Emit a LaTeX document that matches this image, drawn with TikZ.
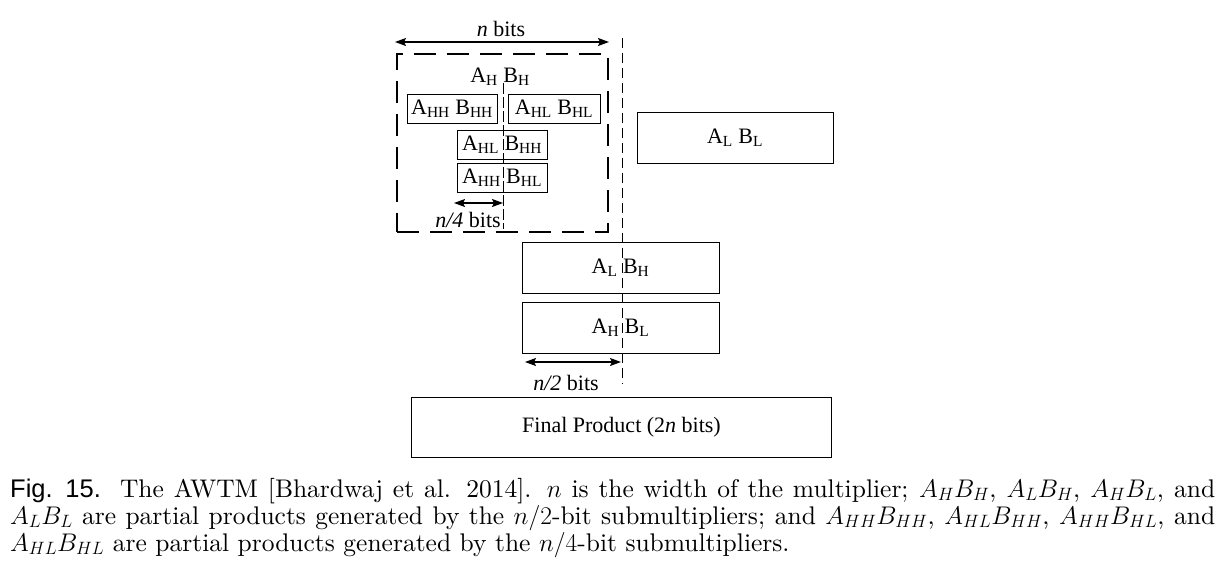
\RequirePackage{fix-cm}
\documentclass[tikz,border=0pt]{standalone}
\usepackage{amsmath,amssymb}
\usepackage{fontspec}
\newfontfamily\tnr{Liberation Serif}
\newfontfamily\hvs{Liberation Sans}
\newfontfamily\capfont{lmroman10-regular.otf}
\newcommand{\fullline}[1]{{\parfillskip=0pt\relax #1\par}}
\newcommand{\sub}[1]{\textsubscript{#1}}
\usetikzlibrary{arrows.meta}

\begin{document}
\begin{tikzpicture}[x=1pt,y=-1pt,>={Stealth[length=11pt,width=8pt,inset=2pt]},
  pbox/.style={draw,line width=1pt,inner sep=0pt,font=\tnr\fontsize{22}{22}\selectfont},
  grp/.style={draw,line width=1.6pt,dash pattern=on 22pt off 11pt,inner sep=0pt},
  lbl/.style={inner sep=0pt,font=\tnr\fontsize{22}{22}\selectfont},
  dim/.style={<->,line width=1.3pt},
  cut/.style={line width=1.4pt,dash pattern=on 10pt off 5pt},
  qcut/.style={line width=1pt,dash pattern=on 11pt off 3pt},
  captxt/.style={inner sep=0pt,text width=1205pt,align=justify,font=\capfont\fontsize{25.5}{27}\selectfont}]
\useasboundingbox (0,0) rectangle (1225,568);

% n/2-bit part A_H B_H
\node[grp,minimum width=211pt,minimum height=178pt] (hgrp) at (502.5,143) {};
\node[lbl] (hlbl) at (500,77) {A\sub{H} B\sub{H}};
\node[pbox,minimum width=90pt,minimum height=29pt] (hh) at (452,108.5) {A\sub{HH} B\sub{HH}};
\node[pbox,minimum width=92pt,minimum height=29pt] (hl) at (554,108.5) {A\sub{HL} B\sub{HL}};
\node[pbox,minimum width=90pt,minimum height=29pt] (hlhh) at (502,144.5) {A\sub{HL} B\sub{HH}};
\node[pbox,minimum width=90pt,minimum height=29pt] (hhhl) at (502,178) {A\sub{HH} B\sub{HL}};

% other partial products
\node[pbox,minimum width=196pt,minimum height=51pt] (lblk) at (735,137.5) {A\sub{L} B\sub{L}};
\node[pbox,minimum width=197pt,minimum height=51pt] (lh) at (620.5,267.5) {A\sub{L} B\sub{H}};
\node[pbox,minimum width=197pt,minimum height=51pt] (hlow) at (620.5,327.5) {A\sub{H} B\sub{L}};
\node[pbox,minimum width=420pt,minimum height=60pt] (fin) at (621.5,427.5) {Final Product (2\textit{n} bits)};

% widths
\coordinate (nL) at (395,42);
\coordinate (nR) at (609,42);
\draw[dim] (nL) -- (nR);
\node[lbl] (nbits) at (501,29) {\textit{n} bits};
\coordinate (qL) at (454,203);
\coordinate (qR) at (503,203);
\draw[dim] (qL) -- (qR);
\node[lbl] (qbits) at (468,220) {\textit{n/4} bits};
\coordinate (hL) at (525,362);
\coordinate (hR) at (621,362);
\draw[dim] (hL) -- (hR);
\node[lbl] (hbits) at (566,383) {\textit{n/2} bits};

% split lines
\coordinate (qT) at (503,83);
\coordinate (qB) at (503,229);
\draw[qcut] (qT) -- (qB);
\coordinate (mT) at (622.5,38);
\coordinate (mB) at (622.5,384);
\draw[cut] (mT) -- (mB);

% caption
\node[captxt,anchor=base west] (cap1) at (10,497) {\fullline{{\hvs Fig. 15.}\hspace{0.75em}The AWTM [Bhardwaj et al. 2014]. $n$ is the width of the multiplier; $A_HB_H$, $A_LB_H$, $A_HB_L$, and}};
\node[captxt,anchor=base west] (cap2) at (10,524) {\fullline{$A_LB_L$ are partial products generated by the $n/2$-bit submultipliers; and $A_{HH}B_{HH}$, $A_{HL}B_{HH}$, $A_{HH}B_{HL}$, and}};
\node[captxt,anchor=base west] (cap3) at (10,551) {$A_{HL}B_{HL}$ are partial products generated by the $n/4$-bit submultipliers.};
\end{tikzpicture}
\end{document}
